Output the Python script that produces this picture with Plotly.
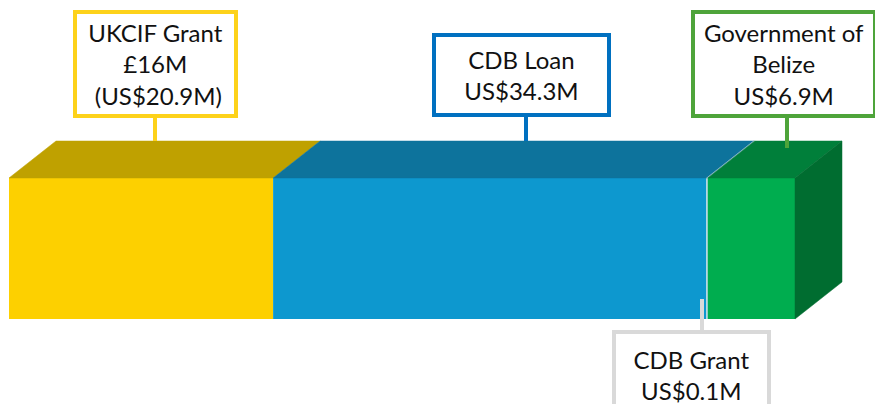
import plotly.graph_objects as go

# ---- data ----
sources = ["UKCIF Grant", "CDB Loan", "CDB Grant", "Government of Belize"]
values_usd_m = [20.9, 34.3, 0.1, 6.9]
label_texts = [
    "UKCIF Grant<br>£16M<br> (US$20.9M)",
    "CDB Loan<br>US$34.3M",
    "CDB Grant<br>US$0.1M",
    "Government of<br>Belize<br>US$6.9M",
]

# ---- style ----
W, H = 875, 404
front_colors = ["#FDD000", "#0D98CF", "#B4D7E2", "#00AD4F"]
top_colors = ["#BFA100", "#0D739C", "#8FB8C6", "#007F3A"]
side_color = "#006D30"
border_colors = ["#FDD21A", "#0070C0", "#D9D9D9", "#4EA43A"]
FONT = "Futura, 'Century Gothic', Lato, sans-serif"

# pixel layout of the bar
PX_LEFT, PX_RIGHT = 9, 795
PY_TOP, PY_BOT = 178, 319
DX_PX, DY_PX = 47, 37

total = sum(values_usd_m)
sx = (PX_RIGHT - PX_LEFT) / total          # px per unit
sy = (PY_BOT - PY_TOP) / 1.0               # px per unit (front face height = 1)
x_range = [-PX_LEFT / sx, (W - PX_LEFT) / sx]
y_range = [-(H - PY_BOT) / sy, 1 + PY_TOP / sy]
dx = DX_PX / sx
dy = DY_PX / sy

starts = []
acc = 0.0
for v in values_usd_m:
    starts.append(acc)
    acc += v

fig = go.Figure()

# top faces
for s, v, c in zip(starts, values_usd_m, top_colors):
    x0, x1 = s, s + v
    fig.add_trace(go.Scatter(
        x=[x0, x1, x1 + dx, x0 + dx, x0],
        y=[1, 1, 1 + dy, 1 + dy, 1],
        fill="toself", fillcolor=c, mode="lines",
        line=dict(color=c, width=0.5), hoverinfo="skip", showlegend=False))

# right side face of the last segment
xe = total
fig.add_trace(go.Scatter(
    x=[xe, xe + dx, xe + dx, xe, xe],
    y=[0, dy, 1 + dy, 1, 0],
    fill="toself", fillcolor=side_color, mode="lines",
    line=dict(color=side_color, width=0.5), hoverinfo="skip", showlegend=False))

# front faces (stacked horizontal bars)
for name, s, v, c in zip(sources, starts, values_usd_m, front_colors):
    fig.add_trace(go.Bar(
        y=[0.5], x=[v], base=[s], width=[1], orientation="h",
        marker=dict(color=c, line=dict(width=0)), name=name, showlegend=False))

# label boxes (outer pixel boxes) and connector lines
boxes = [  # left, top, right, bottom (px)
    (73, 10, 238, 118),
    (432, 33, 611, 117),
    (612, 330, 771, 420),
    (691, 10, 877, 118),
]
connectors = [  # x, y0, y1 (px)
    (155, 118, 141),
    (526, 117, 141),
    (702, 299, 330),
    (787, 118, 148),
]
BW = 4
annotations = []
shapes = []
for txt, (l, t, r, b), bc in zip(label_texts, boxes, border_colors):
    annotations.append(dict(
        text=txt, xref="paper", yref="paper",
        x=l / W, y=1 - t / H, xanchor="left", yanchor="top",
        width=(r - l) - 2 * BW, height=(b - t) - 2 * BW,
        showarrow=False, align="center", valign="middle",
        bgcolor="white", bordercolor=bc, borderwidth=BW, borderpad=0,
        font=dict(family=FONT, size=24, color="#111111")))
for (cx, y0, y1), bc in zip(connectors, border_colors):
    shapes.append(dict(
        type="line", xref="paper", yref="paper",
        x0=cx / W, x1=cx / W, y0=1 - y0 / H, y1=1 - y1 / H,
        line=dict(color=bc, width=4), layer="above"))

fig.update_layout(
    width=W, height=H,
    margin=dict(l=0, r=0, t=0, b=0),
    paper_bgcolor="white", plot_bgcolor="white",
    barmode="overlay",
    xaxis=dict(range=x_range, visible=False, fixedrange=True),
    yaxis=dict(range=y_range, visible=False, fixedrange=True),
    annotations=annotations, shapes=shapes,
)

fig.write_html("out.html")
